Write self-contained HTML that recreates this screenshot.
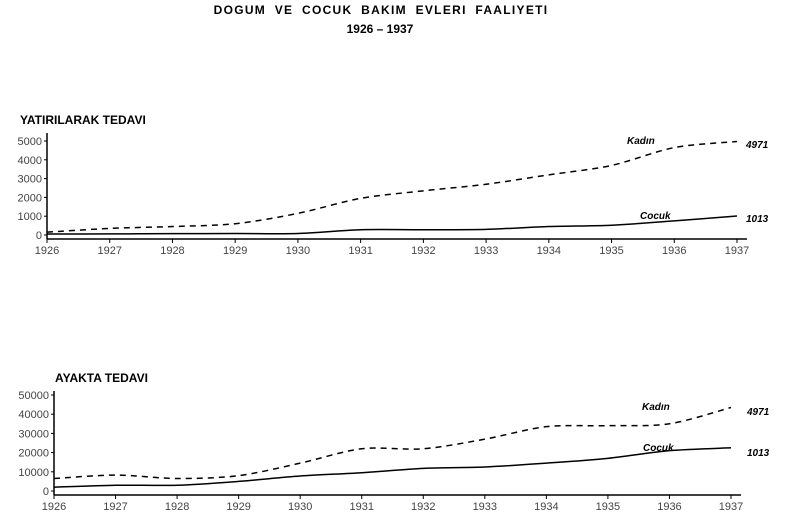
<!DOCTYPE html>
<html><head><meta charset="utf-8"><style>
body{margin:0;background:#fff;font-family:"Liberation Sans",Arial,sans-serif}
svg text{font-family:"Liberation Sans",Arial,sans-serif}
</style></head><body>
<svg id="c" width="796" height="523" xmlns="http://www.w3.org/2000/svg">
<text x="381" y="14" text-anchor="middle" font-size="12" font-weight="bold" letter-spacing="1.3" word-spacing="4">DOGUM VE COCUK BAKIM EVLERI FAALIYETI</text>
<text x="380" y="33" text-anchor="middle" font-size="12" font-weight="bold">1926 – 1937</text>
</svg>
<script>
const years=[1926,1927,1928,1929,1930,1931,1932,1933,1934,1935,1936,1937];
const topKadin=[150,350,450,600,1150,1950,2350,2700,3200,3700,4650,4971];
const topCocuk=[50,60,70,80,80,280,280,300,450,520,750,1013];
const topTicks=[0,1000,2000,3000,4000,5000];
const botKadin=[6500,8300,6500,8000,14500,22000,22000,27000,33500,34000,35000,43500];
const botCocuk=[2000,3000,3000,5000,7800,9500,11800,12500,14500,17000,21000,22500];
const botTicks=[0,10000,20000,30000,40000,50000];
const NS="http://www.w3.org/2000/svg";
const svg=document.getElementById('c');
function mk(tag,attrs,parent){const e=document.createElementNS(NS,tag);for(const k in attrs)e.setAttribute(k,attrs[k]);(parent||svg).appendChild(e);return e;}
function smooth(pts){let d=`M${pts[0][0]},${pts[0][1]}`;for(let i=0;i<pts.length-1;i++){const p0=pts[i-1]||pts[i],p1=pts[i],p2=pts[i+1],p3=pts[i+2]||p2;const t=0.15;
d+=` C${p1[0]+(p2[0]-p0[0])*t},${p1[1]+(p2[1]-p0[1])*t} ${p2[0]-(p3[0]-p1[0])*t},${p2[1]-(p3[1]-p1[1])*t} ${p2[0]},${p2[1]}`;}return d;}
function panel(o){
  const g=mk('g',{});
  
  
  const x=v=>o.x0+(v-years[0])*(o.x1-o.x0)/(years[years.length-1]-years[0]);
  const y=v=>o.y0-v*o.ppu;
  const t=mk('text',{x:o.titleX,y:o.titleY,'font-size':12,'font-weight':'bold'},g);t.textContent=o.title;
  
  
  const xa=mk('line',{x1:o.axX,x2:o.x1+10,y1:o.axY,y2:o.axY,stroke:'#000','stroke-width':1.5},g);
  
  
  const ya=mk('line',{x1:o.axX,x2:o.axX,y1:o.yTop,y2:o.axY,stroke:'#000','stroke-width':1.5},g);
  
  
  years.forEach(yr=>{mk('line',{x1:x(yr),x2:x(yr),y1:o.axY,y2:o.axY+4,stroke:'#000'},g);
    const l=mk('text',{x:x(yr),y:o.axY+15,'text-anchor':'middle','font-size':11,fill:'#444'},g);l.textContent=yr;
    
    });
  o.ticks.forEach(v=>{mk('line',{x1:o.axX-3,x2:o.axX,y1:y(v),y2:y(v),stroke:'#000'},g);
    const l=mk('text',{x:o.axX-5,y:y(v)+4,'text-anchor':'end','font-size':11,fill:'#444'},g);l.textContent=v;
    
    });
  const pk=mk('path',{d:smooth(o.k.map((v,i)=>[x(years[i]),y(v)])),fill:'none',stroke:'#000','stroke-width':1.5,'stroke-dasharray':'6,5'},g);
  
  
  const pc=mk('path',{d:smooth(o.c.map((v,i)=>[x(years[i]),y(v)])),fill:'none',stroke:'#000','stroke-width':1.5},g);
  
  
  const lab=(txt,lx,ly,n)=>{const e=mk('text',{x:lx,y:ly,'font-size':10,'font-weight':'bold','font-style':'italic'},g);e.textContent=txt;
    
    };
  lab('Kadın',o.kl[0],o.kl[1],'kadin-label');lab('Cocuk',o.cl[0],o.cl[1],'cocuk-label');
  lab('4971',x(1937)+o.vo,o.kv,'kadin-value');lab('1013',x(1937)+o.vo,o.cv,'cocuk-value');
}
panel({name:'inpatient-panel',title:'YATIRILARAK TEDAVI',titleX:20,titleY:124,x0:47,x1:737,axX:47,axY:239,yTop:133,y0:235,ppu:0.0188,ticks:topTicks,k:topKadin,c:topCocuk,kl:[627,144],cl:[640,219],kv:148,cv:222,vo:9});
panel({name:'outpatient-panel',title:'AYAKTA TEDAVI',titleX:55,titleY:382,x0:54,x1:731,axX:54,axY:495,yTop:391,y0:491,ppu:0.00192,ticks:botTicks,k:botKadin,c:botCocuk,kl:[642,410],cl:[643,451],kv:415,cv:456,vo:16});
</script>
</body></html>
